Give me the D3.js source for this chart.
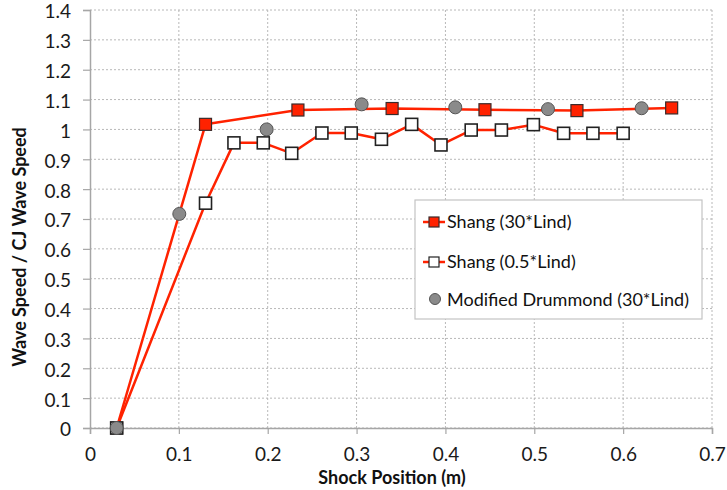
<!DOCTYPE html>
<html>
<head>
<meta charset="utf-8">
<script src="https://cdn.jsdelivr.net/npm/d3@7"></script>
<style>
  html, body { margin: 0; padding: 0; background: #fff; }
  svg { display: block; font-family: Lato, "Open Sans", sans-serif; }
</style>
</head>
<body>
<svg id="chart" width="727" height="490"></svg>
<script>
// Shang (30*Lind)
const shang30X = [0.03, 0.13, 0.234, 0.340, 0.4445, 0.548, 0.6546];
const shang30Y = [0, 1.017, 1.065, 1.07, 1.066, 1.063, 1.072];
// Shang (0.5*Lind)
const shang05X = [0.03, 0.13, 0.162, 0.195, 0.227, 0.261, 0.294, 0.328, 0.362, 0.395, 0.429, 0.463, 0.499, 0.533, 0.566, 0.600];
const shang05Y = [0, 0.753, 0.955, 0.955, 0.92, 0.988, 0.988, 0.967, 1.017, 0.948, 0.998, 0.998, 1.016, 0.987, 0.987, 0.987];
// Modified Drummond (30*Lind)
const drumX = [0.03, 0.1005, 0.1988, 0.3057, 0.4111, 0.5154, 0.6208];
const drumY = [0, 0.717, 1.0, 1.084, 1.074, 1.068, 1.071];

const xTicks = [0, 0.1, 0.2, 0.3, 0.4, 0.5, 0.6, 0.7];
const yTicks = [0, 0.1, 0.2, 0.3, 0.4, 0.5, 0.6, 0.7, 0.8, 0.9, 1, 1.1, 1.2, 1.3, 1.4];
const seriesNames = ["Shang (30*Lind)", "Shang (0.5*Lind)", "Modified Drummond (30*Lind)"];
const xTitle = "Shock Position (m)";
const yTitle = "Wave Speed / CJ Wave Speed";

const svg = d3.select("#chart");
const plotL = 90, plotR = 712, plotT = 10, plotB = 428;
const x = d3.scaleLinear().domain([0, 0.7]).range([plotL, plotR]);
const y = d3.scaleLinear().domain([0, 1.4]).range([plotB, plotT]);

const red = "#ff2200";
const gridColor = "#b8b8b8";
const axisColor = "#a6a6a6";

// dotted grid
svg.append("g").selectAll("line").data(yTicks).join("line")
  .attr("x1", plotL).attr("x2", plotR)
  .attr("y1", d => y(d)).attr("y2", d => y(d))
  .attr("stroke", gridColor).attr("stroke-width", 1).attr("stroke-dasharray", "2,2");
svg.append("g").selectAll("line").data(xTicks.slice(1)).join("line")
  .attr("x1", d => x(d)).attr("x2", d => x(d))
  .attr("y1", plotT).attr("y2", plotB)
  .attr("stroke", gridColor).attr("stroke-width", 1).attr("stroke-dasharray", "2,2");

// axes
const fmt = d => String(+d.toFixed(1));
const gx = svg.append("g").attr("transform", `translate(0,${plotB})`)
  .call(d3.axisBottom(x).tickValues(xTicks).tickFormat(fmt).tickSize(6).tickPadding(14));
const gy = svg.append("g").attr("transform", `translate(${plotL},0)`)
  .call(d3.axisLeft(y).tickValues(yTicks).tickFormat(fmt).tickSize(7).tickPadding(12));
[gx, gy].forEach(g => {
  g.select(".domain").attr("stroke", axisColor).attr("stroke-width", 1.5);
  g.selectAll(".tick line").attr("stroke", axisColor).attr("stroke-width", 1.2);
  g.selectAll(".tick text").attr("fill", "#1a1a1a").style("font-size", "19px")
    .style("font-family", "Lato, sans-serif");
});
gy.selectAll(".tick text").attr("dy", "0.42em");

// axis titles
svg.append("text").attr("x", 392).attr("y", 484).attr("text-anchor", "middle")
  .style("font-size", "18px").style("font-weight", "bold").attr("fill", "#111").text(xTitle);
svg.append("text").attr("transform", "translate(26,247) rotate(-90)").attr("text-anchor", "middle")
  .style("font-size", "18px").style("font-weight", "bold").attr("fill", "#111").text(yTitle);

const line = d3.line().x(d => x(d[0])).y(d => y(d[1]));
const s30 = shang30X.map((v, i) => [v, shang30Y[i]]);
const s05 = shang05X.map((v, i) => [v, shang05Y[i]]);
const dr = drumX.map((v, i) => [v, drumY[i]]);

// lines
[s30, s05].forEach(data => {
  svg.append("path").datum(data).attr("d", line)
    .attr("fill", "none").attr("stroke", red).attr("stroke-width", 2.5).attr("stroke-linejoin", "round");
});

const sq = 12;
// filled red squares
svg.append("g").selectAll("rect").data(s30).join("rect")
  .attr("x", d => x(d[0]) - sq / 2).attr("y", d => y(d[1]) - sq / 2)
  .attr("width", sq).attr("height", sq)
  .attr("fill", red).attr("stroke", "#3a2a2a").attr("stroke-width", 1.2);
// open squares
svg.append("g").selectAll("rect").data(s05).join("rect")
  .attr("x", d => x(d[0]) - sq / 2).attr("y", d => y(d[1]) - sq / 2)
  .attr("width", sq).attr("height", sq)
  .attr("fill", "#fff").attr("stroke", "#222").attr("stroke-width", 1.6);
// gray circles
svg.append("g").selectAll("circle").data(dr).join("circle")
  .attr("cx", d => x(d[0])).attr("cy", d => y(d[1])).attr("r", 6.5)
  .attr("fill", "#8a8a8a").attr("stroke", "#555").attr("stroke-width", 1);

// legend
const lg = svg.append("g");
lg.append("rect").attr("x", 415).attr("y", 200).attr("width", 287).attr("height", 119)
  .attr("fill", "#fff").attr("stroke", "#c4c4c4").attr("stroke-width", 1.2);
const rows = [222, 262, 300];
const lsq = 10;
rows.forEach((ry, i) => {
  if (i < 2) {
    lg.append("line").attr("x1", 423).attr("x2", 445).attr("y1", ry).attr("y2", ry)
      .attr("stroke", red).attr("stroke-width", 2.5);
    lg.append("rect").attr("x", 434 - lsq / 2).attr("y", ry - lsq / 2).attr("width", lsq).attr("height", lsq)
      .attr("fill", i === 0 ? red : "#fff").attr("stroke", i === 0 ? "#3a2a2a" : "#222").attr("stroke-width", 1.2);
  } else {
    lg.append("circle").attr("cx", 435).attr("cy", ry - 1).attr("r", 5.5)
      .attr("fill", "#8a8a8a").attr("stroke", "#555").attr("stroke-width", 1);
  }
  lg.append("text").attr("x", 447).attr("y", ry).attr("dy", "0.35em")
    .style("font-size", "18px").attr("fill", "#111").text(seriesNames[i]);
});
</script>
</body>
</html>
